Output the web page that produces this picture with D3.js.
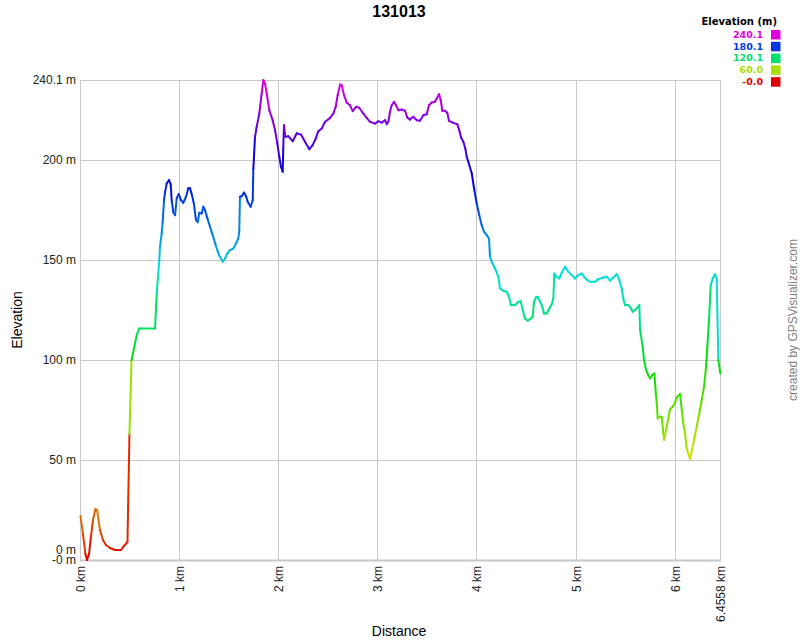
<!DOCTYPE html>
<html>
<head>
<meta charset="utf-8">
<script src="https://cdn.jsdelivr.net/npm/d3@7"></script>
<style>
  html, body { margin: 0; padding: 0; background: #fff; }
  svg { display: block; }
</style>
</head>
<body>
<svg id="chart" width="800" height="640"></svg>
<script>
// ---- data ----
const title = "131013";
const distKm = [
  0.000, 0.025, 0.050, 0.066, 0.086, 0.106, 0.126, 0.151, 0.167, 0.197,
  0.227, 0.257, 0.298, 0.348, 0.409, 0.439, 0.474, 0.494, 0.515, 0.543,
  0.567, 0.593, 0.752, 0.769, 0.785, 0.795, 0.802, 0.819, 0.829, 0.843,
  0.853, 0.870, 0.893, 0.910, 0.920, 0.936, 0.954, 0.971, 0.991, 1.014,
  1.037, 1.065, 1.088, 1.105, 1.122, 1.145, 1.165, 1.183, 1.199, 1.223,
  1.239, 1.256, 1.280, 1.307, 1.334, 1.364, 1.398, 1.435, 1.458, 1.481,
  1.509, 1.542, 1.569, 1.592, 1.602, 1.609, 1.627, 1.650, 1.670, 1.687,
  1.717, 1.738, 1.744, 1.761, 1.778, 1.804, 1.828, 1.845, 1.862, 1.879,
  1.905, 1.939, 1.963, 1.986, 2.006, 2.023, 2.040, 2.046, 2.053, 2.067,
  2.097, 2.141, 2.182, 2.225, 2.265, 2.309, 2.343, 2.373, 2.400, 2.434,
  2.467, 2.511, 2.551, 2.575, 2.595, 2.619, 2.636, 2.659, 2.686, 2.719,
  2.747, 2.780, 2.813, 2.854, 2.888, 2.921, 2.972, 3.005, 3.039, 3.073,
  3.090, 3.106, 3.123, 3.140, 3.163, 3.184, 3.207, 3.241, 3.274, 3.298,
  3.325, 3.358, 3.393, 3.426, 3.459, 3.493, 3.517, 3.544, 3.577, 3.594,
  3.618, 3.635, 3.651, 3.678, 3.701, 3.718, 3.756, 3.802, 3.822, 3.840,
  3.863, 3.883, 3.897, 3.913, 3.948, 3.974, 3.998, 4.024, 4.048, 4.072,
  4.099, 4.122, 4.132, 4.149, 4.183, 4.216, 4.233, 4.266, 4.301, 4.324,
  4.344, 4.385, 4.418, 4.442, 4.462, 4.485, 4.513, 4.543, 4.563, 4.576,
  4.596, 4.613, 4.637, 4.660, 4.677, 4.704, 4.731, 4.755, 4.771, 4.781,
  4.805, 4.831, 4.856, 4.889, 4.922, 4.957, 4.990, 5.023, 5.058, 5.081,
  5.108, 5.141, 5.192, 5.225, 5.275, 5.310, 5.343, 5.376, 5.411, 5.437,
  5.461, 5.477, 5.494, 5.528, 5.545, 5.572, 5.595, 5.639, 5.646, 5.673,
  5.686, 5.707, 5.730, 5.747, 5.770, 5.791, 5.805, 5.815, 5.824, 5.848,
  5.865, 5.881, 5.891, 5.908, 5.931, 5.948, 5.976, 5.999, 6.016, 6.050,
  6.067, 6.083, 6.100, 6.117, 6.133, 6.150, 6.167, 6.190, 6.218, 6.244,
  6.268, 6.292, 6.312, 6.325, 6.342, 6.359, 6.379, 6.402, 6.419, 6.436,
  6.4558
];
const elevM = [
  22, 13, 3, 0, 3, 12, 20, 25.5, 25, 15,
  10, 7.5, 6, 5, 5, 7, 9, 63, 100, 106.7,
  112.5, 115.8, 115.8, 133.3, 143.3, 150, 156.7, 163.3, 169, 180,
  184, 188.3, 190, 188, 180, 174, 172.5, 181, 183, 180,
  178.7, 181.7, 186, 186, 183, 178, 170, 169, 173.7, 173.3,
  176.7, 175, 171, 166.7, 162.5, 157.5, 152.5, 149.2, 150.8, 153.3,
  155, 155.8, 158.3, 160.8, 164.2, 181.7, 182, 183.8, 182, 179.2,
  176.7, 180, 195.8, 211.7, 216.7, 223.3, 233.3, 240.1, 238.3, 233.3,
  225, 220, 215, 208.3, 201.7, 196.7, 194.2, 205.8, 217.5, 211.7,
  212, 209.5, 213.5, 212.8, 209.2, 205.5, 207.5, 210.8, 214.5, 215.8,
  219.2, 220.8, 223.3, 226.7, 232.5, 237.8, 237.5, 232.5, 228.8, 227.5,
  224.5, 226.7, 226.2, 223.3, 221.2, 219.2, 218.3, 219.5, 218.8, 220,
  218, 219.2, 224.2, 227.5, 229.2, 227.5, 225, 225.3, 224.7, 221.3,
  220.3, 221.7, 220, 219.7, 222.5, 223, 227.5, 228.8, 229.2, 230.8,
  233, 230, 224.7, 224.7, 223.7, 219.7, 218.8, 218, 215, 211.3,
  209.2, 205.8, 201.7, 199.2, 193.3, 185, 178.3, 172.5, 167.5, 164.2,
  162.5, 160.8, 151.7, 149.2, 145.8, 141.7, 135.8, 134.7, 134.2, 131.7,
  127.5, 127.5, 129.2, 129.5, 125, 120.8, 119.7, 120.8, 121.7, 129.2,
  131.3, 131.7, 129.2, 126.7, 123.3, 123.3, 125.8, 128, 130.8, 143.3,
  141.7, 140.8, 143.7, 146.7, 144.2, 142.5, 140.8, 142.5, 143.3, 141.7,
  140.3, 139.2, 139.2, 140.5, 141.3, 141.7, 139.7, 141.3, 143, 140,
  135.8, 130.8, 127.5, 127.5, 126.7, 124.2, 125, 127.5, 115, 106.7,
  100, 95, 92.5, 90.8, 92.5, 93.3, 83.3, 78.3, 70.8, 71.7,
  71.7, 63.3, 60, 65, 70.8, 75.3, 76.7, 78.7, 81.3, 83,
  75, 68.3, 63.3, 55.8, 53.3, 50.5, 54.2, 60, 66.7, 73.3,
  80, 86.7, 96.7, 106.7, 120, 137.5, 140.8, 143, 140.8, 100,
  93.3
];
const elevMin = 0;
const elevMax = 240.1;
const distMax = 6.4558;
const yTicks = [0, 50, 100, 150, 200, 240.1];
const yTickLabels = ["0 m", "50 m", "100 m", "150 m", "200 m", "240.1 m"];
const yMinLabel = "-0 m";
const xTicks = [0, 1, 2, 3, 4, 5, 6, 6.4558];
const xTickLabels = ["0 km", "1 km", "2 km", "3 km", "4 km", "5 km", "6 km", "6.4558 km"];
const legendTitle = "Elevation (m)";
const legendValues = [240.1, 180.1, 120.1, 60.0, 0];
const legendLabels = ["240.1", "180.1", "120.1", "60.0", "-0.0"];
const xTitle = "Distance";
const yTitle = "Elevation";
const credit = "created by GPSVisualizer.com";

// ---- drawing ----
const svg = d3.select("#chart");
const W = 800, H = 640;
const plot = { left: 80.5, right: 720.3, top: 80, bottom: 560 };

const x = d3.scaleLinear().domain([0, distMax]).range([plot.left, plot.right]);
const y = d3.scaleLinear().domain([elevMin, elevMax]).range([plot.bottom, plot.top]);
const color = v => d3.hsl(300 * (v - elevMin) / (elevMax - elevMin), 1, 0.44).formatHex();

const sans = "'Liberation Sans', Arial, Helvetica, sans-serif";
const verd = "'DejaVu Sans', Verdana, sans-serif";
const snap = v => Math.round(v - 0.5) + 0.5;

// gridlines
const grid = svg.append("g");
grid.selectAll("line.h").data(yTicks).join("line")
  .attr("x1", snap(plot.left)).attr("x2", snap(plot.right))
  .attr("y1", d => snap(y(d))).attr("y2", d => snap(y(d)))
  .attr("stroke", "#c8c8c8").attr("stroke-width", 1);
grid.selectAll("line.v").data(xTicks).join("line")
  .attr("x1", d => snap(x(d))).attr("x2", d => snap(x(d)))
  .attr("y1", plot.top).attr("y2", plot.bottom)
  .attr("stroke", "#c8c8c8").attr("stroke-width", 1);
// bottom axis line
svg.append("line")
  .attr("x1", snap(plot.left) - 0.5).attr("x2", snap(plot.right) + 0.5)
  .attr("y1", plot.bottom + 0.5).attr("y2", plot.bottom + 0.5)
  .attr("stroke", "#c8c8c8").attr("stroke-width", 2);

// y labels
const yl = svg.append("g").attr("font-family", sans).attr("font-size", 12).attr("fill", "#222");
yl.selectAll("text").data(yTicks).join("text")
  .attr("x", 76)
  .attr("y", (d, i) => y(d) - (d === 0 ? 10 : 0))
  .attr("dy", "0.35em")
  .attr("text-anchor", "end")
  .text((d, i) => yTickLabels[i]);
yl.append("text").attr("x", 76).attr("y", y(elevMin)).attr("dy", "0.35em")
  .attr("text-anchor", "end").text(yMinLabel);

// x labels (rotated)
const xl = svg.append("g").attr("font-family", sans).attr("font-size", 12).attr("fill", "#222");
xl.selectAll("text").data(xTicks).join("text")
  .attr("transform", d => `translate(${snap(x(d))},${plot.bottom + 6}) rotate(-90)`)
  .attr("dy", "0.35em")
  .attr("text-anchor", "end")
  .text((d, i) => xTickLabels[i]);

// elevation line, one segment per pair, coloured by its start elevation
const segs = d3.range(distKm.length - 1).map(i => ({
  x1: distKm[i], y1: elevM[i], x2: distKm[i + 1], y2: elevM[i + 1]
}));
svg.append("g").selectAll("line").data(segs).join("line")
  .attr("x1", d => x(d.x1)).attr("y1", d => y(d.y1))
  .attr("x2", d => x(d.x2)).attr("y2", d => y(d.y2))
  .attr("stroke", d => color(d.y1))
  .attr("stroke-width", 2)
  .attr("stroke-linecap", "round");

// title
svg.append("text").attr("x", 399).attr("y", 17)
  .attr("text-anchor", "middle").attr("font-family", sans)
  .attr("font-size", 16).attr("font-weight", "bold").attr("fill", "#000")
  .text(title);

// axis titles
svg.append("text").attr("x", 399).attr("y", 636)
  .attr("text-anchor", "middle").attr("font-family", sans)
  .attr("font-size", 14).attr("fill", "#000").text(xTitle);
svg.append("text").attr("transform", "translate(17,320) rotate(-90)")
  .attr("dy", "0.35em")
  .attr("text-anchor", "middle").attr("font-family", sans)
  .attr("font-size", 14).attr("fill", "#000").text(yTitle);

// credit
svg.append("text").attr("transform", "translate(793,320) rotate(-90)")
  .attr("dy", "0.35em")
  .attr("text-anchor", "middle").attr("font-family", sans)
  .attr("font-size", 12).attr("fill", "#808080").text(credit);

// legend
const lg = svg.append("g");
lg.append("text").attr("x", 777).attr("y", 25)
  .attr("text-anchor", "end").attr("font-family", verd)
  .attr("font-size", 10).attr("font-weight", "bold").attr("fill", "#000")
  .text(legendTitle);
const rows = lg.selectAll("g.row").data(legendValues).join("g")
  .attr("transform", (d, i) => `translate(0,${34.5 + i * 11.8})`);
rows.append("text").attr("x", 763).attr("dy", "0.35em")
  .attr("text-anchor", "end").attr("font-family", verd)
  .attr("font-size", 9.5).attr("font-weight", "bold")
  .attr("fill", d => color(d))
  .text((d, i) => legendLabels[i]);
rows.append("rect").attr("x", 771).attr("y", -4.5)
  .attr("width", 9.5).attr("height", 9.5)
  .attr("fill", d => color(d));
</script>
</body>
</html>
